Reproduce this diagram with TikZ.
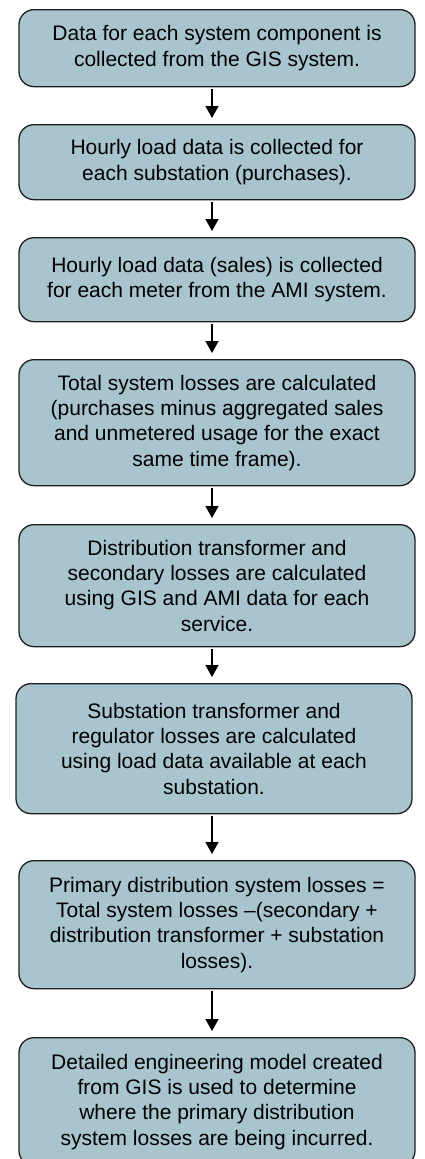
\documentclass[tikz,border=0pt]{standalone}
\usepackage{fontspec}
\setmainfont{Liberation Sans}
\usetikzlibrary{arrows.meta}
\definecolor{boxfill}{RGB}{168,196,204}
\definecolor{boxline}{RGB}{30,30,30}
\tikzset{
  stepbox/.style={draw=boxline, line width=1.3pt, fill=boxfill, rounded corners=15pt,
    anchor=north, align=center, inner sep=0pt,
    font=\fontsize{21}{25.3}\selectfont},
  arr/.style={line width=1.4pt, -{Triangle[width=13pt,length=12pt]},
    shorten <=2pt, shorten >=6pt}
}
\begin{document}
\begin{tikzpicture}[x=1pt,y=1pt]
\useasboundingbox (0,0) rectangle (425,-1159);
\fill[white] (0,0) rectangle (425,-1159);
\node[stepbox, minimum width=396pt, minimum height=77pt] (b1) at (217,-9)
  {Data for each system component is\\collected from the GIS system.};
\node[stepbox, minimum width=396pt, minimum height=75pt] (b2) at (217,-124)
  {Hourly load data is collected for\\each substation (purchases).};
\node[stepbox, minimum width=396pt, minimum height=84pt] (b3) at (217,-237)
  {Hourly load data (sales) is collected\\for each meter from the AMI system.};
\node[stepbox, minimum width=396pt, minimum height=126pt] (b4) at (217,-359)
  {Total system losses are calculated\\(purchases minus aggregated sales\\and unmetered usage for the exact\\same time frame).};
\node[stepbox, minimum width=396pt, minimum height=122pt] (b5) at (217,-524)
  {Distribution transformer and\\secondary losses are calculated\\using GIS and AMI data for each\\service.};
\node[stepbox, minimum width=396pt, minimum height=130pt] (b6) at (214,-683)
  {Substation transformer and\\regulator losses are calculated\\using load data available at each\\substation.};
\node[stepbox, minimum width=396pt, minimum height=128pt] (b7) at (217,-860)
  {Primary distribution system losses =\\Total system losses –(secondary +\\distribution transformer + substation\\losses).};
\node[stepbox, minimum width=396pt, minimum height=128pt] (b8) at (217,-1037)
  {Detailed engineering model created\\from GIS is used to determine\\where the primary distribution\\system losses are being incurred.};
\draw[arr] ([xshift=-5pt]b1.south) -- ([xshift=-5pt]b2.north);
\draw[arr] ([xshift=-5pt]b2.south) -- ([xshift=-5pt]b3.north);
\draw[arr] ([xshift=-5pt]b3.south) -- ([xshift=-5pt]b4.north);
\draw[arr] ([xshift=-5pt]b4.south) -- ([xshift=-5pt]b5.north);
\draw[arr] ([xshift=-5pt]b5.south) -- ([xshift=-2pt]b6.north);
\draw[arr] ([xshift=-2pt]b6.south) -- ([xshift=-5pt]b7.north);
\draw[arr] ([xshift=-5pt]b7.south) -- ([xshift=-5pt]b8.north);
\end{tikzpicture}
\end{document}
